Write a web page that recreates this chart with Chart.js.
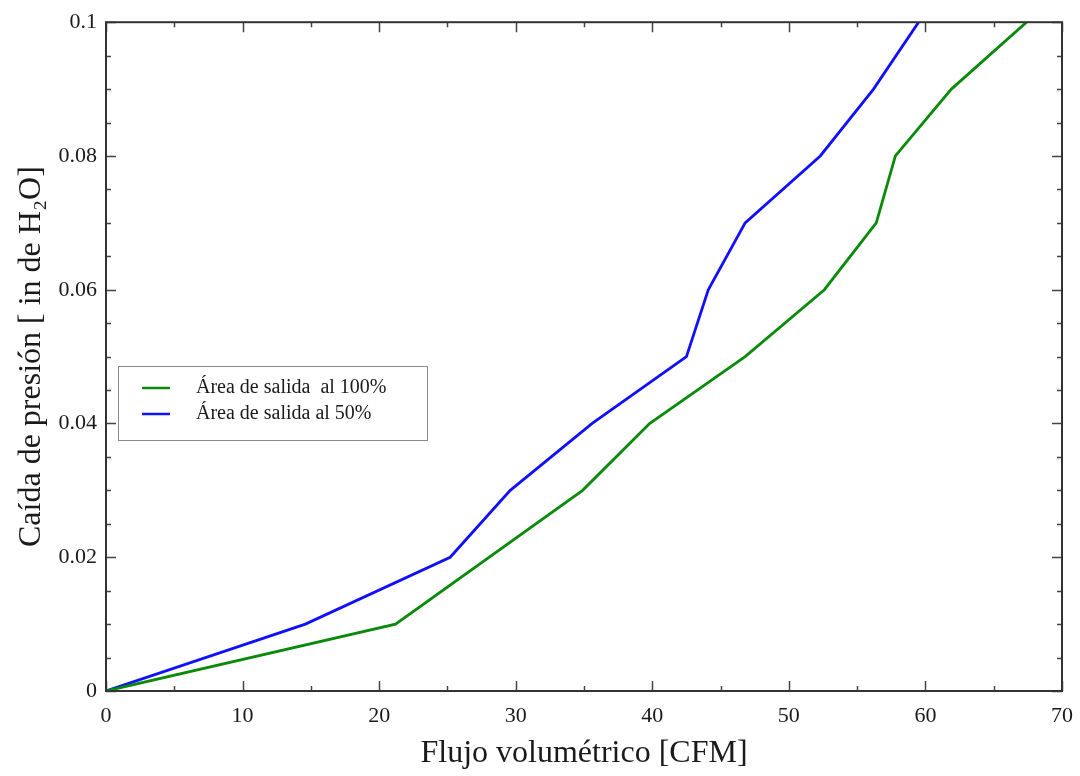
<!DOCTYPE html>
<html>
<head>
<meta charset="utf-8">
<script src="https://cdn.jsdelivr.net/npm/chart.js@4/dist/chart.umd.min.js"></script>
<style>
  html, body { margin: 0; padding: 0; background: #ffffff; }
  #wrap { width: 1080px; height: 776px; position: relative; }
</style>
</head>
<body>
<div id="wrap"><canvas id="c" width="1080" height="776"></canvas></div>
<script>
// Caída de presión vs flujo volumétrico para dos aperturas de salida
const flujo100 = [0, 21.2, 34.9, 39.8, 46.8, 52.6, 56.4, 57.8, 61.9, 67.4];
const caida100 = [0, 0.01, 0.03, 0.04, 0.05, 0.06, 0.07, 0.08, 0.09, 0.1];

const flujo50 = [0, 14.6, 25.2, 29.6, 35.6, 42.5, 44.1, 46.8, 52.3, 56.2, 59.5];
const caida50 = [0, 0.01, 0.02, 0.03, 0.04, 0.05, 0.06, 0.07, 0.08, 0.09, 0.1];

const etiquetas = ['Área de salida  al 100%', 'Área de salida al 50%'];
const colores = ['#0a8a0a', '#1010ff'];

const xTicks = [0, 10, 20, 30, 40, 50, 60, 70];
const yTicks = [0, 0.02, 0.04, 0.06, 0.08, 0.1];

const serif = '"Liberation Serif", "DejaVu Serif", serif';

const toPoints = (xs, ys) => xs.map((x, i) => ({ x: x, y: ys[i] }));

// Marco del gráfico, marcas interiores y leyenda
const framePlugin = {
  id: 'frame',
  afterDraw(chart) {
    const { ctx, chartArea: a, scales } = chart;
    const xs = scales.x, ys = scales.y;
    ctx.save();
    ctx.strokeStyle = '#444';
    ctx.lineWidth = 1.5;
    // marcas menores y mayores hacia el interior, en los cuatro lados
    for (let v = 0; v <= 70 + 1e-9; v += 5) {
      const px = Math.round(xs.getPixelForValue(v)) + 0.5;
      const len = (Math.abs(v % 10) < 1e-9) ? 10 : 5;
      ctx.beginPath();
      ctx.moveTo(px, a.bottom); ctx.lineTo(px, a.bottom - len);
      ctx.moveTo(px, a.top); ctx.lineTo(px, a.top + len);
      ctx.stroke();
    }
    for (let k = 0; k <= 20; k++) {
      const v = k * 0.005;
      const py = Math.round(ys.getPixelForValue(v)) + 0.5;
      const len = (k % 4 === 0) ? 10 : 5;
      ctx.beginPath();
      ctx.moveTo(a.left, py); ctx.lineTo(a.left + len, py);
      ctx.moveTo(a.right, py); ctx.lineTo(a.right - len, py);
      ctx.stroke();
    }
    // marco
    ctx.strokeStyle = '#333';
    ctx.lineWidth = 2;
    ctx.strokeRect(a.left, a.top, a.right - a.left, a.bottom - a.top);

    // leyenda
    const lx = 118, ly = 366, lw = 309, lh = 74;
    ctx.fillStyle = '#ffffff';
    ctx.fillRect(lx, ly, lw, lh);
    ctx.strokeStyle = '#8a8a8a';
    ctx.lineWidth = 1;
    ctx.strokeRect(lx + 0.5, ly + 0.5, lw, lh);
    ctx.font = '20px ' + serif;
    ctx.textBaseline = 'middle';
    ctx.textAlign = 'left';
    chart.data.datasets.forEach((ds, i) => {
      const yy = ly + 22 + i * 26;
      ctx.strokeStyle = ds.borderColor;
      ctx.lineWidth = 2.5;
      ctx.beginPath();
      ctx.moveTo(142, yy); ctx.lineTo(170, yy);
      ctx.stroke();
      ctx.fillStyle = '#1a1a1a';
      ctx.fillText(ds.label, 196, yy);
    });
    ctx.restore();
  }
};

new Chart(document.getElementById('c'), {
  type: 'line',
  data: {
    datasets: [
      { label: etiquetas[0], data: toPoints(flujo100, caida100), borderColor: colores[0], borderWidth: 2.8, pointRadius: 0, tension: 0, fill: false },
      { label: etiquetas[1], data: toPoints(flujo50, caida50), borderColor: colores[1], borderWidth: 2.8, pointRadius: 0, tension: 0, fill: false }
    ]
  },
  options: {
    responsive: false,
    animation: false,
    devicePixelRatio: 1,
    layout: { padding: { top: 20, right: 18, bottom: 3, left: 0 } },
    plugins: { legend: { display: false }, tooltip: { enabled: false } },
    scales: {
      x: {
        type: 'linear',
        min: 0, max: 70,
        afterBuildTicks(scale) { scale.ticks = xTicks.map(v => ({ value: v })); },
        afterFit(scale) { scale.height = 82; scale.paddingRight = 0; },
        grid: { display: false, drawTicks: false },
        border: { display: false },
        ticks: {
          padding: 12,
          color: '#1a1a1a',
          font: { family: serif, size: 22 },
          maxRotation: 0,
          callback: v => String(v)
        },
        title: {
          display: true,
          text: 'Flujo volumétrico [CFM]',
          color: '#1a1a1a',
          font: { family: serif, size: 32 },
          padding: { top: 4, bottom: 0 }
        }
      },
      y: {
        type: 'linear',
        min: 0, max: 0.1,
        afterBuildTicks(scale) { scale.ticks = yTicks.map(v => ({ value: v })); },
        afterFit(scale) { scale.width = 106; },
        grid: { display: false, drawTicks: false },
        border: { display: false },
        ticks: {
          padding: 9,
          color: '#1a1a1a',
          font: { family: serif, size: 22 },
          callback: v => String(Number(v.toFixed(3)))
        },
        title: {
          display: true,
          text: 'Caída de presión [ in de H₂O]',
          color: '#1a1a1a',
          font: { family: serif, size: 32 },
          padding: { top: 12, bottom: 0 }
        }
      }
    }
  },
  plugins: [framePlugin]
});
</script>
</body>
</html>
